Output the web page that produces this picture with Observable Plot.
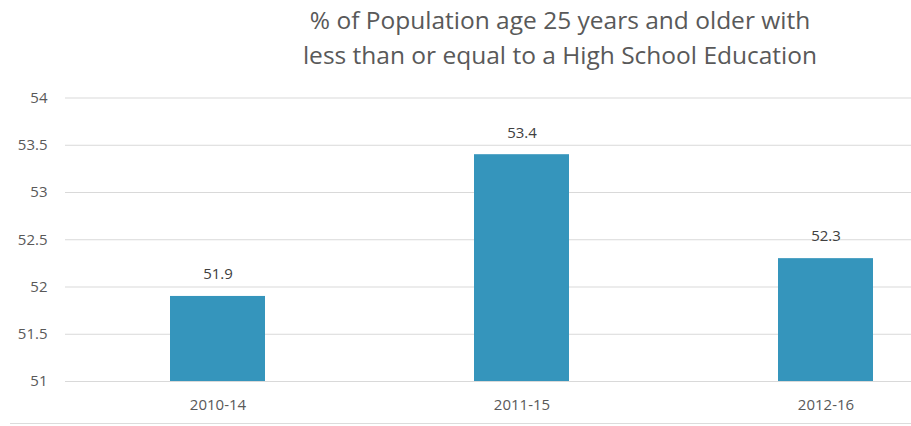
<!DOCTYPE html>
<html>
<head>
<meta charset="utf-8">
<script src="https://cdn.jsdelivr.net/npm/d3@7"></script>
<script src="https://cdn.jsdelivr.net/npm/@observablehq/plot@0.6"></script>
<style>
  html, body { margin: 0; padding: 0; background: #fff; }
  #wrap { position: relative; width: 911px; height: 426px; overflow: hidden; font-family: "Open Sans", sans-serif; }
  #title { position: absolute; left: 160px; width: 800px; top: 2px; text-align: center; font-size: 24.5px; line-height: 35px; color: #595959; }
  #chart { position: absolute; left: 0; top: 80px; }
  #bottom { position: absolute; left: 10px; right: 0; top: 423px; border-top: 1px solid #dcdcdc; }
</style>
</head>
<body>
<div id="wrap">
  <div id="title">% of Population age 25 years and older with<br>less than or equal to a High School Education</div>
  <div id="chart"></div>
  <div id="bottom"></div>
</div>
<script>
const categories = ["2010-14", "2011-15", "2012-16"];
const values = [51.9, 53.4, 52.3];
const yTicks = [51, 51.5, 52, 52.5, 53, 53.5, 54];

const data = categories.map((c, i) => ({period: c, value: values[i]}));

const chart = Plot.plot({
  width: 911,
  height: 346,
  marginTop: 0,
  marginLeft: 65,
  marginRight: 0,
  marginBottom: 0,
  style: {fontFamily: "Open Sans, sans-serif", fontSize: "15px", color: "#595959", background: "transparent"},
  x: {type: "band", domain: categories, range: [64.25, 977.75], paddingInner: 0.688, paddingOuter: 0.344, axis: null},
  y: {domain: [51, 54], range: [301, 17.5], axis: null},
  marks: [
    Plot.ruleY(yTicks, {stroke: "#d9d9d9", strokeWidth: 1}),
    Plot.axisY({ticks: yTicks, tickSize: 0, tickPadding: 18, tickFormat: d => String(d), label: null, fill: "#595959", fontSize: 15}),
    Plot.barY(data, {x: "period", y1: 51, y2: "value", fill: "#3595bc"}),
    Plot.text(data, {x: "period", y: "value", text: d => d.value.toFixed(1), dy: -22, fill: "#404040", fontSize: 15}),
    Plot.text(data, {x: "period", y: 51, text: "period", dy: 24, fill: "#595959", fontSize: 15})
  ]
});
document.getElementById("chart").appendChild(chart);
</script>
</body>
</html>
